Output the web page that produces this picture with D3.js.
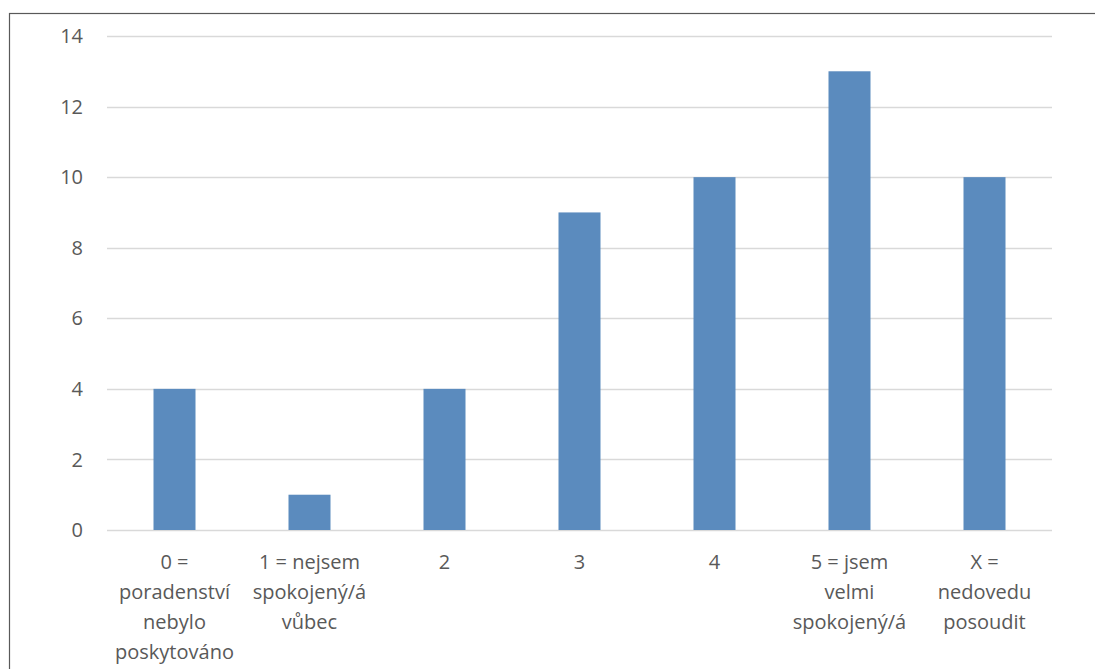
<!DOCTYPE html>
<html>
<head>
<meta charset="utf-8">
<script src="https://cdn.jsdelivr.net/npm/d3@7"></script>
<style>
  html, body { margin: 0; padding: 0; background: #fff; }
  svg { display: block; }
  text { font-family: "Open Sans", "Liberation Sans", sans-serif; fill: #595959; }
</style>
</head>
<body>
<svg id="chart" width="1095" height="669"></svg>
<script>
// Survey responses: satisfaction with counselling
const categories = [
  ["0 =", "poradenství", "nebylo", "poskytováno"],
  ["1 = nejsem", "spokojený/á", "vůbec"],
  ["2"],
  ["3"],
  ["4"],
  ["5 = jsem", "velmi", "spokojený/á"],
  ["X =", "nedovedu", "posoudit"]
];
const counts = [4, 1, 4, 9, 10, 13, 10];
const yTicks = [0, 2, 4, 6, 8, 10, 12, 14];

const svg = d3.select("#chart");
const W = 1095, H = 669;
const plot = { left: 107, right: 1052, top: 36, bottom: 530 };

// outer chart frame (runs off the right and bottom edges)
svg.append("rect")
  .attr("x", 9.5).attr("y", 13.5)
  .attr("width", W + 10).attr("height", H + 10)
  .attr("fill", "#fff").attr("stroke", "#595959").attr("stroke-width", 1.2);

const keys = categories.map((c, i) => i);
const xGroup = d3.scaleBand().domain(keys).range([plot.left, plot.right]);
const y = d3.scaleLinear().domain([0, 14]).range([plot.bottom, plot.top]);

// horizontal gridlines
svg.append("g").selectAll("line").data(yTicks).join("line")
  .attr("x1", plot.left).attr("x2", plot.right)
  .attr("y1", d => Math.round(y(d)) + 0.5).attr("y2", d => Math.round(y(d)) + 0.5)
  .attr("stroke", "#d9d9d9").attr("stroke-width", 1.3);

// y tick labels
svg.append("g").selectAll("text").data(yTicks).join("text")
  .attr("x", 83).attr("y", d => y(d))
  .attr("dy", "0.36em").attr("text-anchor", "end")
  .attr("font-size", 20)
  .text(d => d);

// bars
svg.append("g").selectAll("rect").data(counts).join("rect")
  .attr("x", (d, i) => xGroup(i) + xGroup.bandwidth() / 2 - 21)
  .attr("width", 42)
  .attr("y", d => y(d))
  .attr("height", d => y(0) - y(d))
  .attr("fill", "#5b8bbe");

// category labels
const labels = svg.append("g").selectAll("text").data(categories).join("text")
  .attr("text-anchor", "middle")
  .attr("font-size", 20)
  .attr("x", (d, i) => xGroup(i) + xGroup.bandwidth() / 2)
  .attr("y", 569);
labels.selectAll("tspan").data(d => d).join("tspan")
  .attr("x", function() { return d3.select(this.parentNode).attr("x"); })
  .attr("dy", (d, j) => j === 0 ? 0 : 30)
  .text(d => d);
</script>
</body>
</html>
